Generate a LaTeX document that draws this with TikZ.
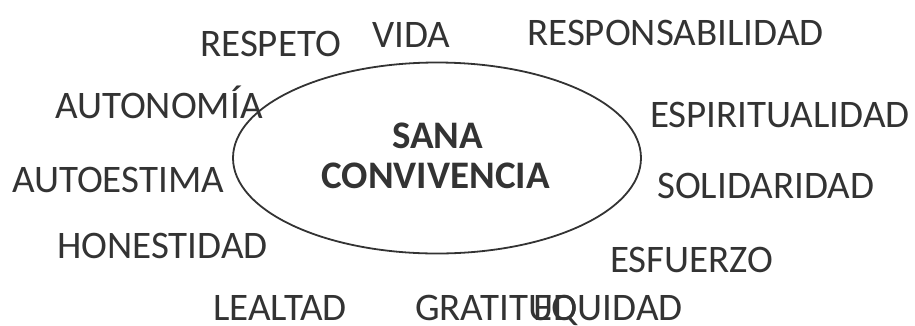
\documentclass[tikz,border=0pt]{standalone}
\usepackage{fontspec}
\setmainfont{Carlito}
\definecolor{txt}{HTML}{333333}
\begin{document}
\begin{tikzpicture}[x=1pt,y=-1pt,
  word/.style={anchor=base west,inner sep=0pt,text depth=0pt,text=txt,font=\fontsize{39}{40}\selectfont},
  title/.style={inner sep=0pt,text=txt,font=\fontsize{39}{40}\selectfont\bfseries,align=center}]
\useasboundingbox (0,0) rectangle (915,325);
\draw[line width=1.8pt,color=txt] (437,158) ellipse [x radius=204, y radius=95.5];
\node[title,anchor=base] (sana) at (437.5,148) {SANA};
\node[title,anchor=base] (conv) at (435.5,188) {CONVIVENCIA};
\node[word] (respeto) at (200,56) {RESPETO};
\node[word] (vida) at (372,47) {VIDA};
\node[word] (resp) at (527,45) {RESPONSABILIDAD};
\node[word] (auton) at (55,118) {AUTONOMÍA};
\node[word] (espir) at (650,127) {ESPIRITUALIDAD};
\node[word] (autoe) at (12,192) {AUTOESTIMA};
\node[word] (solid) at (657,198) {SOLIDARIDAD};
\node[word] (hones) at (57,258) {HONESTIDAD};
\node[word] (esfu) at (610,272) {ESFUERZO};
\node[word] (leal) at (213,320) {LEALTAD};
\node[word] (grat) at (415,320) {GRATITUD};
\node[word] (equi) at (533,320) {EQUIDAD};
\end{tikzpicture}
\end{document}
